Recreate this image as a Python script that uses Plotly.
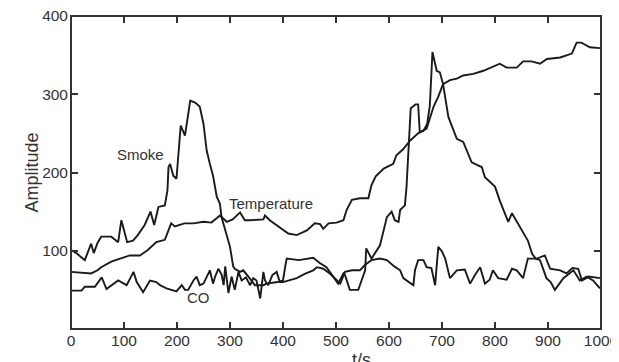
import plotly.graph_objects as go

smoke_t = [0, 10, 26, 33, 38, 43, 50, 57, 76, 89, 95, 106, 117, 126, 139, 150, 157, 165, 177, 182,
           184, 187, 193, 199, 207, 215, 225, 235, 243, 250, 256, 262, 268, 275, 281, 284, 291, 300,
           306, 309, 319, 325, 338, 347, 363, 369, 390, 400, 404, 407, 430, 451, 457, 470, 482, 504,
           514, 517, 526, 542, 555, 557, 567, 583, 596, 605, 611, 618, 621, 627, 630, 633, 638, 641,
           650, 655, 658, 665, 672, 677, 682, 690, 696, 702, 712, 721, 728, 740, 747, 756, 768, 775,
           781, 790, 800, 809, 819, 825, 832, 841, 853, 862, 870, 877, 885, 897, 905, 913, 929, 948,
           960, 973, 985, 998]
smoke_v = [101, 97, 88, 100, 109, 97, 110, 118, 118, 111, 139, 111, 113, 120, 133, 150, 133, 156, 158, 177,
           207, 211, 196, 192, 260, 247, 292, 289, 284, 262, 228, 211, 196, 169, 160, 143, 126, 105,
           80, 77, 73, 75, 64, 56, 56, 58, 60, 62, 79, 90, 88, 91, 91, 84, 79, 58,
           71, 69, 50, 50, 75, 103, 90, 107, 143, 150, 139, 137, 152, 156, 158, 181, 250, 282,
           287, 287, 252, 253, 262, 285, 354, 330, 328, 313, 271, 254, 243, 239, 228, 213, 209, 207,
           194, 188, 182, 164, 148, 137, 148, 137, 124, 113, 96, 90, 88, 65, 60, 50, 65, 75,
           62, 67, 62, 52]

temp_t = [0, 19, 38, 50, 57, 76, 95, 111, 130, 145, 161, 177, 189, 196, 214, 231, 250, 265, 281, 294,
          305, 319, 328, 338, 363, 366, 375, 388, 410, 426, 445, 460, 470, 476, 486, 501, 514, 520,
          530, 545, 561, 567, 575, 590, 608, 614, 627, 640, 655, 671, 684, 693, 702, 715, 728, 740,
          759, 778, 797, 809, 822, 841, 853, 869, 885, 898, 923, 945, 954, 963, 979, 998]
temp_v = [73, 72, 71, 75, 79, 86, 90, 94, 94, 101, 111, 114, 135, 131, 135, 135, 137, 136, 145, 137,
          140, 149, 139, 139, 140, 145, 139, 133, 122, 120, 126, 135, 134, 128, 135, 136, 139, 152,
          165, 167, 167, 184, 195, 205, 211, 222, 230, 241, 250, 256, 284, 297, 313, 318, 320, 324,
          326, 330, 335, 339, 334, 334, 342, 342, 339, 345, 347, 352, 366, 366, 360, 359]

co_t = [0, 20, 26, 45, 58, 67, 89, 105, 118, 124, 136, 149, 161, 168, 180, 193, 199, 209, 215, 221,
        231, 237, 243, 250, 256, 262, 268, 272, 278, 284, 288, 291, 297, 303, 309, 316, 322, 330,
        338, 344, 350, 353, 357, 363, 366, 372, 380, 388, 394, 400, 415, 426, 440, 457, 464, 476,
        490, 508, 517, 530, 545, 555, 567, 583, 596, 610, 621, 627, 646, 649, 655, 665, 671, 680,
        687, 693, 700, 706, 715, 728, 743, 753, 763, 772, 781, 790, 796, 806, 822, 832, 841, 853,
        862, 879, 894, 904, 923, 935, 946, 957, 964, 977, 998]
co_v = [49, 49, 54, 54, 66, 51, 62, 56, 73, 60, 47, 62, 60, 56, 52, 49, 48, 56, 50, 50,
        62, 67, 56, 58, 66, 75, 58, 67, 77, 70, 56, 80, 46, 67, 50, 73, 62, 66,
        56, 65, 62, 52, 39, 73, 62, 56, 69, 73, 60, 60, 63, 65, 70, 75, 79, 77,
        70, 58, 73, 75, 75, 82, 88, 90, 88, 80, 75, 65, 56, 75, 88, 88, 79, 78,
        56, 105, 99, 90, 65, 75, 76, 58, 70, 79, 58, 63, 75, 65, 63, 77, 75, 65,
        90, 90, 94, 77, 75, 71, 78, 77, 62, 67, 65]

x_ticks = [0, 100, 200, 300, 400, 500, 600, 700, 800, 900, 1000]
y_ticks = [100, 200, 300, 400]

labels = ["Smoke", "Temperature", "CO"]
label_x = [132, 378, 241]
label_y = [223, 160, 40]

FONT = "Liberation Sans, Arial"
LINE = dict(color="#1a1a1a", width=1.9)
fig = go.Figure()
for t, v, name in [(smoke_t, smoke_v, "Smoke"), (temp_t, temp_v, "Temperature"), (co_t, co_v, "CO")]:
    fig.add_trace(go.Scatter(x=t, y=v, mode="lines", line=LINE, name=name, showlegend=False))

for txt, xx, yy in zip(labels, label_x, label_y):
    fig.add_annotation(x=xx, y=yy, text=txt, showarrow=False,
                       font=dict(family=FONT, size=15, color="#333"))

fig.add_annotation(xref="paper", yref="paper", x=-0.098, y=0.5, text="Amplitude", textangle=-90,
                   showarrow=False, font=dict(family=FONT, size=18, color="#333"))
fig.add_annotation(xref="paper", yref="paper", x=0.548, y=-0.062, yanchor="top", text="t/s",
                   showarrow=False, font=dict(family=FONT, size=18, color="#333"))

fig.add_shape(type="rect", xref="paper", yref="paper", x0=0, x1=1, y0=0, y1=1,
              line=dict(color="#333", width=2), layer="above")

tick_style = dict(ticks="inside", ticklen=7, tickwidth=2, tickcolor="#333",
                  showgrid=False, zeroline=False, automargin=False)
fig.update_layout(
    xaxis=dict(range=[0, 1000], tickmode="array", tickvals=x_ticks,
               ticktext=[str(v) for v in x_ticks], showline=False, mirror="ticks",
               ticklabeloverflow="allow",
               tickfont=dict(family=FONT, size=15.5, color="#333"), **tick_style),
    yaxis=dict(range=[0, 400], tickmode="array", tickvals=y_ticks,
               ticktext=[str(v) for v in y_ticks], showline=False, mirror="ticks",
               ticklabeloverflow="allow", ticklabelstandoff=2,
               tickfont=dict(family=FONT, size=15.5, color="#333"), **tick_style),
)

fig.update_layout(width=619, height=362, margin=dict(l=63, r=26, t=7.5, b=41),
                  plot_bgcolor="white", paper_bgcolor="white")
fig.write_html("out.html")
